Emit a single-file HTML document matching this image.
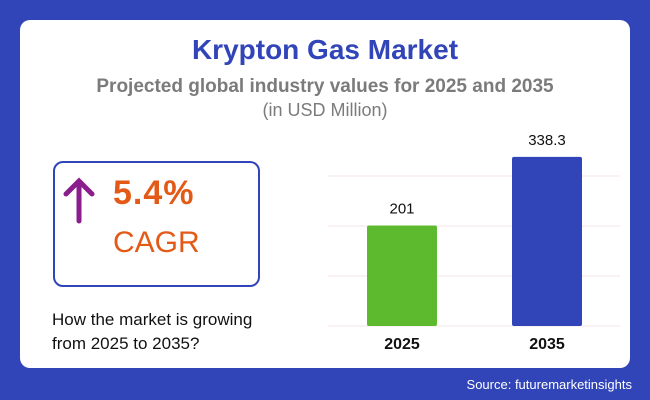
<!DOCTYPE html>
<html><head><meta charset="utf-8"><style>
body{margin:0;width:650px;height:400px;background:#3145b9;font-family:"Liberation Sans",sans-serif;position:relative;overflow:hidden}
.card{position:absolute;left:20px;top:20px;width:610px;height:348px;background:#fff;border-radius:10px}
.abs{position:absolute}
</style></head><body>
<div class="card"></div>
<div class="abs" style="left:0;width:650px;top:34px;text-align:center;font-size:28px;font-weight:bold;color:#3145b9">Krypton Gas Market</div>
<div class="abs" style="left:0;width:650px;top:76px;text-align:center;font-size:19px;font-weight:bold;color:#7b7b7b">Projected global industry values for 2025 and 2035</div>
<div class="abs" style="left:0;width:650px;top:100px;text-align:center;font-size:18px;color:#7b7b7b">(in USD Million)</div>
<div class="abs" style="left:53px;top:161px;width:203px;height:122px;border:2px solid #3145b9;border-radius:10px"></div>
<svg class="abs" style="left:62px;top:175px" width="34" height="50"><path d="M17 46V6M4 19L17 6L30 19" stroke="#8a1e8c" stroke-width="5" fill="none" stroke-linecap="round"/></svg>
<div class="abs" style="left:113px;top:174px;font-size:34px;font-weight:bold;color:#e35a17;letter-spacing:1px">5.4%</div>
<div class="abs" style="left:113px;top:226px;font-size:30px;color:#e35a17">CAGR</div>
<div class="abs" style="left:52px;top:308px;font-size:17px;line-height:24px;color:#111">How the market is growing<br>from 2025 to 2035?</div>
<div class="abs" style="right:18px;top:377px;font-size:13px;color:#fff">Source: futuremarketinsights</div>
<svg class="abs" id="chart" style="left:0;top:0" width="650" height="400"></svg>
<script>
const categories=["2025","2035"];
const values=[201,338.3];
const labels=["201","338.3"];
const gridTicks=[0,100,200,300];
const colors=["#5dba2f","#3145b9"];
const ns="http://www.w3.org/2000/svg",svg=document.getElementById('chart');
const base=326,k=0.5;
const y=v=>base-v*k;
const x=i=>402+i*145;
function mk(t,a){const e=document.createElementNS(ns,t);for(const n in a)e.setAttribute(n,a[n]);svg.appendChild(e);return e;}
gridTicks.forEach(t=>{const l=mk('line',{x1:328,x2:620,y1:y(t),y2:y(t),stroke:'#f3e3e6','stroke-width':1});

});
values.forEach((v,i)=>{
const r=mk('rect',{x:x(i)-35,y:y(v),width:70,height:v*k,rx:2,fill:colors[i]});


const t=mk('text',{x:x(i),y:y(v)-12,'text-anchor':'middle','font-size':15,fill:'#111','font-family':'Liberation Sans, sans-serif'});t.textContent=labels[i];


const c=mk('text',{x:x(i),y:349,'text-anchor':'middle','font-size':16,'font-weight':'bold',fill:'#111','font-family':'Liberation Sans, sans-serif'});c.textContent=categories[i];


});
</script>
</body></html>
